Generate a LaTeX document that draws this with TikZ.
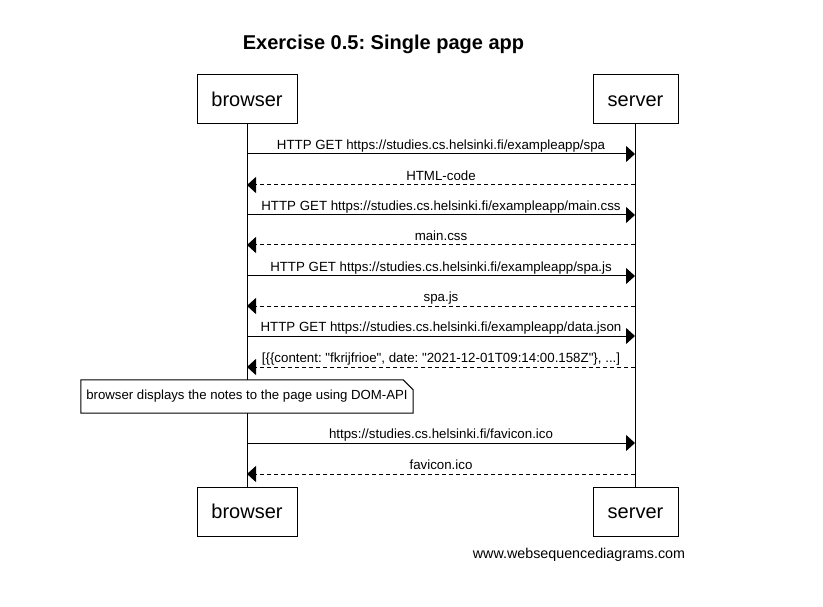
\documentclass[tikz,border=0pt]{standalone}
\usepackage{fontspec}
\setmainfont{Liberation Sans}[Ligatures=TeXOff]
\usetikzlibrary{calc,positioning,arrows.meta}
\frenchspacing
\tikzset{%
  actor/.style = { draw, line width=1pt, minimum height=49pt, inner sep=0pt, text height=15pt, text depth=1pt, font=\fontsize{20}{24}\selectfont },
  lifeline/.style = { draw, line width=1pt },
  msg/.style = { line width=1pt, -{Triangle[length=9pt,width=16pt]} },
  reply/.style = { msg, dash pattern=on 4pt off 3pt },
  msglabel/.style = { midway, above=0pt, inner sep=1pt, text height=9.5pt, text depth=3pt, font=\fontsize{13.3}{15}\selectfont },
  notebox/.style = { fill=white, minimum width=332pt, minimum height=33pt, inner sep=0pt, font=\fontsize{13.2}{15}\selectfont },
  title/.style = { font=\fontsize{20}{24}\selectfont\bfseries },
  footer/.style = { font=\fontsize{14.3}{17}\selectfont }
}

\begin{document}
\begin{tikzpicture}[x=1pt,y=-1pt]

  \useasboundingbox (0,0) rectangle (823,607);

  \node[title] (head) at (383.5,44) {Exercise 0.5: Single page app};

  % Actors
  \node[actor,minimum width=100pt] (browsertop) at (247,99.5) {browser};
  \node[actor,minimum width=85pt] (servertop) at (635.5,99.5) {server};
  \node[actor,minimum width=100pt] (browserbot) at (247,511.5) {browser};
  \node[actor,minimum width=85pt] (serverbot) at (635.5,511.5) {server};

  \draw[lifeline] (browsertop.south) -- (browserbot.north);
  \draw[lifeline] (servertop.south) -- (serverbot.north);

  % Message rows
  \foreach \i/\y in {1/154,2/185,3/215,4/245,5/276,6/306,7/336,8/367,9/443,10/474} {
    \coordinate (b\i) at (247,\y);
    \coordinate (s\i) at (635,\y);
  }

  \draw[msg] (b1) -- (s1) node[msglabel] {HTTP GET https://studies.cs.helsinki.fi/exampleapp/spa};
  \draw[reply] (s2) -- (b2) node[msglabel] {HTML-code};
  \draw[msg] (b3) -- (s3) node[msglabel] {HTTP GET https://studies.cs.helsinki.fi/exampleapp/main.css};
  \draw[reply] (s4) -- (b4) node[msglabel] {main.css};
  \draw[msg] (b5) -- (s5) node[msglabel] {HTTP GET https://studies.cs.helsinki.fi/exampleapp/spa.js};
  \draw[reply] (s6) -- (b6) node[msglabel] {spa.js};
  \draw[msg] (b7) -- (s7) node[msglabel] {HTTP GET https://studies.cs.helsinki.fi/exampleapp/data.json};
  \draw[reply] (s8) -- (b8) node[msglabel] {[\{\{content: "fkrijfrioe", date: "2021-12-01T09:14:00.158Z"\}, ...]};

  % Note
  \node[notebox] (note) at (247,396.5) {browser displays the notes to the page using DOM-API};
  \draw[line width=1pt] (note.south west) -- (note.north west) -- ($(note.north east)+(-10pt,0pt)$)
    -- ($(note.north east)+(0pt,-10pt)$) -- (note.south east) -- cycle;

  \draw[msg] (b9) -- (s9) node[msglabel] {https://studies.cs.helsinki.fi/favicon.ico};
  \draw[reply] (s10) -- (b10) node[msglabel] {favicon.ico};

  \node[footer] (site) at (579,555) {www.websequencediagrams.com};

\end{tikzpicture}
\end{document}
